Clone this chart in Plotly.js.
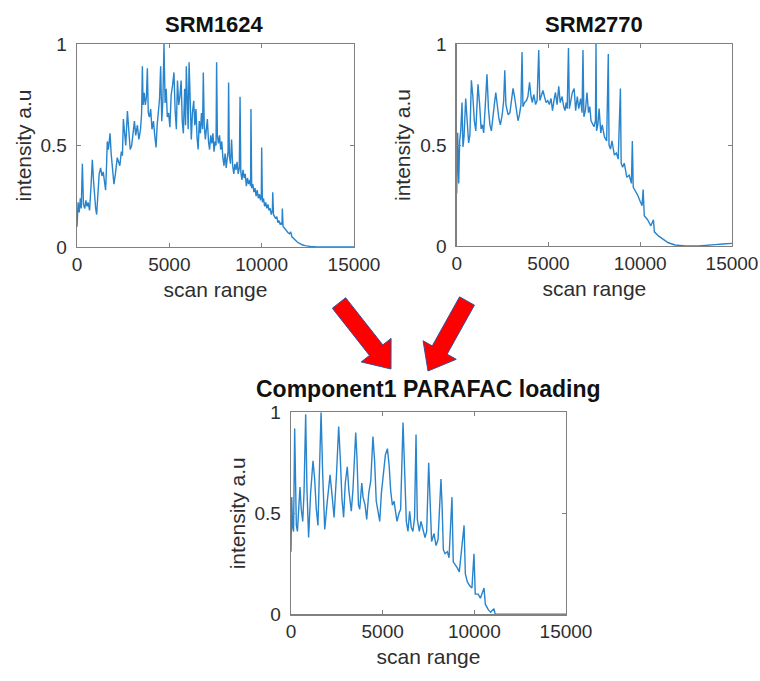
<!DOCTYPE html>
<html>
<head>
<meta charset="utf-8">
<script src="https://cdn.plot.ly/plotly-3.0.1.min.js"></script>
<style>
  html, body { margin: 0; padding: 0; background: #ffffff; }
  #chart { width: 760px; height: 681px; }
</style>
</head>
<body>
<div id="chart"></div>
<script>
// ---------- Data ----------
const srm1624_x = [
  0, 60, 120, 180, 230, 290, 350, 420, 480, 540,
  600, 680, 760, 830, 900, 960, 1010, 1065, 1130, 1200,
  1280, 1350, 1420, 1490, 1550, 1600, 1640, 1700, 1750, 1790,
  1850, 1920, 2000, 2080, 2180, 2250, 2320, 2400, 2460, 2510,
  2570, 2640, 2730, 2800, 2880, 2960, 3040, 3110, 3180, 3270,
  3350, 3440, 3500, 3540, 3580, 3640, 3700, 3760, 3810, 3860,
  3920, 3990, 4060, 4140, 4210, 4280, 4340, 4410, 4470, 4530,
  4590, 4650, 4710, 4770, 4830, 4890, 4960, 5030, 5100, 5180,
  5250, 5310, 5380, 5440, 5510, 5570, 5640, 5700, 5760, 5830,
  5880, 5920, 5970, 6020, 6070, 6120, 6190, 6250, 6320, 6380,
  6440, 6500, 6560, 6620, 6680, 6740, 6800, 6840, 6890, 6950,
  7010, 7060, 7120, 7180, 7240, 7300, 7360, 7420, 7480, 7530,
  7560, 7600, 7660, 7720, 7780, 7840, 7900, 7960, 8020, 8080,
  8140, 8180, 8210, 8250, 8310, 8370, 8430, 8490, 8550, 8610,
  8670, 8730, 8790, 8830, 8870, 8930, 8990, 9050, 9110, 9170,
  9230, 9290, 9350, 9400, 9420, 9460, 9520, 9580, 9640, 9700,
  9760, 9820, 9880, 9940, 9980, 10000, 10040, 10100, 10160, 10220,
  10280, 10340, 10400, 10460, 10520, 10580, 10600, 10640, 10700, 10760,
  10820, 10880, 10940, 11000, 11060, 11100, 11120, 11160, 11220, 11290,
  11360, 11430, 11500, 11570, 11640, 11720, 11800, 11900, 12000, 12100,
  12200, 12350, 12500, 12700, 12900, 13100, 13400, 13700, 14000, 14300,
  14600, 15000
];
const srm1624_y = [
  0.10, 0.22, 0.17, 0.24, 0.19, 0.41, 0.21, 0.19, 0.23, 0.20,
  0.22, 0.18, 0.30, 0.43, 0.32, 0.24, 0.19, 0.16, 0.27, 0.36,
  0.39, 0.35, 0.37, 0.31, 0.28, 0.40, 0.52, 0.48, 0.55, 0.56,
  0.46, 0.38, 0.31, 0.36, 0.44, 0.42, 0.40, 0.47, 0.45, 0.63,
  0.55, 0.50, 0.67, 0.55, 0.48, 0.50, 0.57, 0.62, 0.55, 0.60,
  0.53, 0.58, 0.66, 0.89, 0.70, 0.76, 0.70, 0.74, 0.88, 0.66,
  0.64, 0.68, 0.58, 0.62, 0.55, 0.49, 0.60, 0.66, 0.73, 0.89,
  0.62, 0.72, 1.00, 0.71, 0.78, 0.64, 0.66, 0.59, 0.75, 0.80,
  0.86, 0.68, 0.58, 0.82, 0.70, 0.74, 0.82, 0.62, 0.56, 0.78,
  0.60, 0.89, 0.64, 0.58, 0.91, 0.70, 0.53, 0.66, 0.72, 0.60,
  0.68, 0.54, 0.48, 0.62, 0.56, 0.66, 0.58, 0.86, 0.60, 0.53,
  0.57, 0.63, 0.52, 0.48, 0.55, 0.51, 0.56, 0.47, 0.52, 0.50,
  0.91, 0.55, 0.51, 0.55, 0.48, 0.52, 0.44, 0.40, 0.46, 0.39,
  0.44, 0.47, 0.81, 0.45, 0.41, 0.53, 0.40, 0.36, 0.41, 0.38,
  0.42, 0.36, 0.39, 0.74, 0.37, 0.33, 0.38, 0.34, 0.36, 0.30,
  0.34, 0.31, 0.33, 0.30, 0.68, 0.29, 0.31, 0.27, 0.29, 0.25,
  0.28, 0.24, 0.26, 0.23, 0.25, 0.49, 0.22, 0.24, 0.20, 0.22,
  0.19, 0.21, 0.18, 0.19, 0.16, 0.18, 0.27, 0.16, 0.15, 0.14,
  0.15, 0.12, 0.13, 0.11, 0.12, 0.11, 0.19, 0.10, 0.095, 0.085,
  0.08, 0.07, 0.065, 0.075, 0.05, 0.042, 0.035, 0.027, 0.02, 0.015,
  0.011, 0.007, 0.004, 0.002, 0.001, 0.0, 0.0, 0.0, 0.0, 0.0,
  0.0, 0.0
];

const srm2770_x = [
  0, 50, 110, 160, 220, 290, 340, 400, 490, 560,
  650, 720, 800, 880, 960, 1040, 1100, 1160, 1250, 1330,
  1400, 1470, 1560, 1650, 1730, 1810, 1890, 1960, 2050, 2130,
  2220, 2300, 2380, 2480, 2560, 2620, 2680, 2750, 2800, 2900,
  2980, 3070, 3150, 3250, 3340, 3420, 3500, 3560, 3610, 3700,
  3800, 3880, 3970, 4050, 4120, 4200, 4300, 4380, 4470, 4530,
  4600, 4700, 4780, 4870, 4960, 5050, 5140, 5220, 5300, 5380,
  5470, 5560, 5640, 5740, 5830, 5900, 5960, 6020, 6090, 6140,
  6200, 6300, 6400, 6480, 6570, 6650, 6750, 6830, 6880, 6930,
  7010, 7100, 7180, 7250, 7320, 7400, 7480, 7560, 7590, 7620,
  7690, 7760, 7850, 7930, 8050, 8170, 8260, 8300, 8380, 8460,
  8590, 8700, 8800, 8920, 8960, 9040, 9130, 9270, 9400, 9520,
  9570, 9620, 9760, 9870, 10000, 10100, 10160, 10220, 10400, 10580,
  10720, 10770, 10990, 11260, 11530, 11900, 12450, 13170, 13600, 14080,
  14500, 15000
];
const srm2770_y = [
  0.26, 0.56, 0.31, 0.52, 0.57, 0.71, 0.49, 0.54, 0.73, 0.62,
  0.51, 0.55, 0.82, 0.74, 0.62, 0.57, 0.66, 0.80, 0.70, 0.58,
  0.60, 0.56, 0.70, 0.85, 0.68, 0.60, 0.57, 0.64, 0.70, 0.76,
  0.68, 0.63, 0.60, 0.65, 0.72, 0.87, 0.70, 0.66, 0.65, 0.66,
  0.72, 0.78, 0.74, 0.66, 0.62, 0.65, 0.70, 0.96, 0.69, 0.71,
  0.72, 0.74, 0.81, 0.74, 0.71, 0.75, 0.70, 0.72, 0.97, 0.72,
  0.74, 0.77, 0.74, 0.71, 0.72, 0.70, 0.73, 0.67, 0.72, 0.76,
  0.70, 0.79, 0.71, 0.74, 0.69, 0.67, 0.71, 0.68, 0.98, 0.68,
  0.71, 0.76, 0.78, 0.67, 0.74, 0.68, 0.73, 0.66, 0.97, 0.64,
  0.67, 0.76, 0.66, 0.69, 0.62, 0.60, 0.59, 0.62, 1.00, 0.57,
  0.60, 0.68, 0.56, 0.60, 0.54, 0.52, 0.95, 0.50, 0.48, 0.52,
  0.45, 0.46, 0.43, 0.78, 0.41, 0.39, 0.41, 0.34, 0.35, 0.31,
  0.52, 0.29, 0.27, 0.25, 0.22, 0.20, 0.28, 0.15, 0.13, 0.10,
  0.13, 0.07, 0.05, 0.033, 0.016, 0.005, 0.0, 0.0, 0.002, 0.007,
  0.01, 0.013
];

const comp1_x = [
  0, 40, 90, 140, 200, 290, 350, 420, 490, 560,
  640, 710, 800, 870, 960, 1070, 1200, 1290, 1380, 1470,
  1560, 1640, 1730, 1840, 1980, 2130, 2240, 2350, 2480, 2600,
  2690, 2780, 2870, 2960, 3070, 3160, 3290, 3380, 3530, 3600,
  3680, 3750, 3860, 3930, 4040, 4130, 4240, 4350, 4470, 4560,
  4650, 4750, 4840, 4930, 5060, 5150, 5260, 5350, 5440, 5530,
  5620, 5700, 5780, 5890, 5980, 6110, 6200, 6290, 6380, 6470,
  6560, 6650, 6740, 6820, 6890, 7000, 7090, 7180, 7310, 7400,
  7510, 7580, 7670, 7800, 7910, 8020, 8180, 8240, 8310, 8400,
  8530, 8620, 8780, 8850, 8940, 9070, 9180, 9440, 9510, 9620,
  9760, 9870, 9980, 10050, 10210, 10330, 10530, 10600, 10760, 10890,
  11070, 11140, 11950, 15000
];
const comp1_y = [
  0.31, 0.58, 0.43, 0.41, 0.92, 0.44, 0.41, 0.52, 0.63, 0.52,
  0.46, 0.60, 0.99, 0.62, 0.38, 0.60, 0.76, 0.67, 0.52, 0.44,
  0.69, 1.00, 0.69, 0.42, 0.56, 0.69, 0.59, 0.48, 0.69, 0.93,
  0.77, 0.57, 0.48, 0.65, 0.73, 0.61, 0.51, 0.62, 0.90, 0.77,
  0.54, 0.52, 0.65, 0.58, 0.54, 0.47, 0.60, 0.66, 0.88, 0.76,
  0.56, 0.51, 0.46, 0.60, 0.73, 0.79, 0.82, 0.74, 0.61, 0.54,
  0.56, 0.50, 0.46, 0.50, 0.52, 0.95, 0.69, 0.46, 0.41, 0.51,
  0.43, 0.41, 0.48, 0.89, 0.47, 0.41, 0.46, 0.43, 0.38, 0.41,
  0.75, 0.58, 0.36, 0.40, 0.34, 0.37, 0.67, 0.54, 0.32, 0.30,
  0.31, 0.28, 0.58, 0.26, 0.25, 0.23, 0.21, 0.44, 0.20, 0.16,
  0.14, 0.13, 0.30, 0.10, 0.10, 0.08, 0.13, 0.05, 0.023, 0.01,
  0.028, 0.0, 0.0, 0.0
];

const panelTitles = ['SRM1624', 'SRM2770', 'Component1 PARAFAC loading'];
const xTickVals = [0, 5000, 10000, 15000];
const xTickText = ['0', '5000', '10000', '15000'];
const yTickVals = [0, 0.5, 1];
const yTickText = ['0', '0.5', '1'];
const xLabel = 'scan range';
const yLabel = 'intensity a.u';

// ---------- Styling ----------
const W = 760, H = 681;
const FONT = '"Liberation Sans", Arial, Helvetica, sans-serif';
const LINE_COLOR = '#2884cc';
const AXIS_COLOR = '#808080';
const TEXT_COLOR = '#2e2e2e';

function px2paperX(px) { return px / W; }
function px2paperY(py) { return 1 - py / H; }

// panel boxes in pixels: [left, right, top, bottom]
const boxes = [
  [77, 354, 44, 247],
  [456.7, 732, 44, 246],
  [291, 566, 412.3, 614.3]
];

function xAxis(i) {
  const b = boxes[i];
  return {
    domain: [px2paperX(b[0]), px2paperX(b[1])],
    anchor: 'y' + (i === 0 ? '' : i + 1),
    range: [0, 15000],
    tickmode: 'array', tickvals: xTickVals, ticktext: xTickText,
    ticks: 'inside', ticklen: 4, tickwidth: 1, tickcolor: AXIS_COLOR,
    showline: true, mirror: 'ticks', linecolor: AXIS_COLOR, linewidth: 1.3,
    showgrid: false, zeroline: false, fixedrange: true,
    tickfont: { family: FONT, size: 19, color: TEXT_COLOR },
    title: { text: xLabel, standoff: 8, font: { family: FONT, size: 21, color: TEXT_COLOR } },
    automargin: false
  };
}
function yAxis(i) {
  const b = boxes[i];
  return {
    domain: [px2paperY(b[3]), px2paperY(b[2])],
    anchor: 'x' + (i === 0 ? '' : i + 1),
    range: [0, 1],
    tickmode: 'array', tickvals: yTickVals, ticktext: yTickText,
    ticks: 'inside', ticklen: 4, tickwidth: 1, tickcolor: AXIS_COLOR,
    ticklabelstandoff: 5,
    showline: true, mirror: 'ticks', linecolor: AXIS_COLOR, linewidth: 1.3,
    showgrid: false, zeroline: false, fixedrange: true,
    tickfont: { family: FONT, size: 19, color: TEXT_COLOR },
    title: { text: yLabel, standoff: 3, font: { family: FONT, size: 21, color: TEXT_COLOR } },
    automargin: false
  };
}

const series = [
  [srm1624_x, srm1624_y],
  [srm2770_x, srm2770_y],
  [comp1_x, comp1_y]
];
const traces = series.map((s, i) => ({
  type: 'scatter', mode: 'lines',
  x: s[0], y: s[1],
  xaxis: 'x' + (i === 0 ? '' : i + 1),
  yaxis: 'y' + (i === 0 ? '' : i + 1),
  line: { color: LINE_COLOR, width: 1.4 },
  hoverinfo: 'skip', showlegend: false
}));

// Panel titles
const titleCenters = [[214, 25], [594, 25], [428, 389]];
const titleSizes = [22, 22, 23];
const annotations = panelTitles.map((t, i) => ({
  text: '<b>' + t + '</b>',
  xref: 'paper', yref: 'paper',
  x: px2paperX(titleCenters[i][0]), y: px2paperY(titleCenters[i][1]),
  xanchor: 'center', yanchor: 'middle', showarrow: false,
  font: { family: FONT, size: titleSizes[i], color: '#111111' }
}));

// Decorative red block arrows (pixel geometry)
function arrowPath(tail, tip, sw, hw, hl) {
  const dx = tip[0] - tail[0], dy = tip[1] - tail[1];
  const L = Math.hypot(dx, dy);
  const ux = dx / L, uy = dy / L;
  const nx = -uy, ny = ux;
  const neck = [tip[0] - ux * hl, tip[1] - uy * hl];
  const pts = [
    [tail[0] + nx * sw / 2, tail[1] + ny * sw / 2],
    [neck[0] + nx * sw / 2, neck[1] + ny * sw / 2],
    [neck[0] + nx * hw / 2, neck[1] + ny * hw / 2],
    [tip[0], tip[1]],
    [neck[0] - nx * hw / 2, neck[1] - ny * hw / 2],
    [neck[0] - nx * sw / 2, neck[1] - ny * sw / 2],
    [tail[0] - nx * sw / 2, tail[1] - ny * sw / 2]
  ];
  return 'M ' + pts.map(p => px2paperX(p[0]).toFixed(5) + ',' + px2paperY(p[1]).toFixed(5)).join(' L ') + ' Z';
}
const shapes = [
  arrowPath([339, 303], [391, 369], 17, 38, 24),
  arrowPath([467, 301], [428, 371], 17, 38, 24)
].map(p => ({
  type: 'path', xref: 'paper', yref: 'paper', path: p,
  fillcolor: '#ff0000', line: { color: '#34509a', width: 1 }, layer: 'above'
}));

const layout = {
  width: W, height: H,
  margin: { l: 0, r: 0, t: 0, b: 0, pad: 0 },
  paper_bgcolor: '#ffffff', plot_bgcolor: '#ffffff',
  showlegend: false,
  font: { family: FONT, color: TEXT_COLOR },
  xaxis: xAxis(0), yaxis: yAxis(0),
  xaxis2: xAxis(1), yaxis2: yAxis(1),
  xaxis3: xAxis(2), yaxis3: yAxis(2),
  annotations: annotations,
  shapes: shapes
};

Plotly.newPlot('chart', traces, layout, { displayModeBar: false, staticPlot: true });
</script>
</body>
</html>
